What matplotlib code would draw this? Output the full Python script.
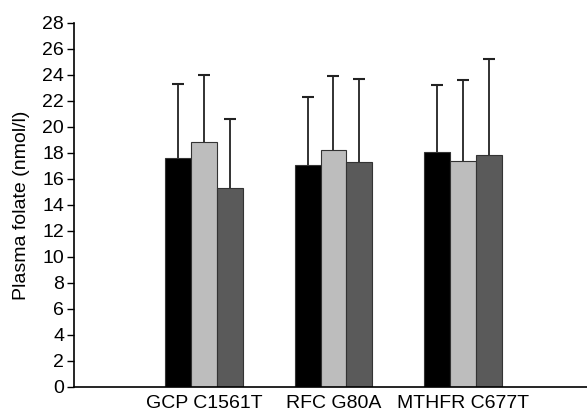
import numpy as np
import matplotlib.pyplot as plt

genes = ["GCP C1561T", "RFC G80A", "MTHFR C677T"]
wild_type = [17.6, 17.1, 18.1]
heterozygous = [18.8, 18.2, 17.4]
homozygous = [15.3, 17.3, 17.8]
wild_sd = [5.7, 5.2, 5.1]
het_sd = [5.2, 5.7, 6.2]
hom_sd = [5.3, 6.4, 7.4]

plt.rcParams['font.family'] = ['Liberation Sans', 'DejaVu Sans']

fig = plt.figure(figsize=(5.87, 4.12), dpi=100)
ax = fig.add_axes([0.126, 0.0607, 0.874, 0.884])

x = np.arange(len(genes))
w = 0.2
series = [
    (wild_type, wild_sd, "#000000"),
    (heterozygous, het_sd, "#bdbdbd"),
    (homozygous, hom_sd, "#5a5a5a"),
]
for i, (vals, sd, col) in enumerate(series):
    pos = x + (i - 1) * w
    ax.bar(pos, vals, width=w, color=col, edgecolor="#333333", linewidth=0.8, zorder=2)
    _, caps, _ = ax.errorbar(pos, vals, yerr=[np.zeros(len(vals)), sd], fmt="none",
                             ecolor="#222222", elinewidth=1.3, capsize=4,
                             capthick=1.5, zorder=1)
    # only keep the upper cap
    caps[0].set_visible(False)

ax.set_xlim(-1.004, 2.958)
ax.set_ylim(0, 28)
ax.set_yticks(range(0, 29, 2))
ax.set_xticks(x)
ax.set_xticklabels(genes)
ax.tick_params(axis="x", length=0, pad=6, labelsize=14)
ax.tick_params(axis="y", length=5, width=1, direction="out", pad=2, labelsize=14)
ax.spines["top"].set_visible(False)
ax.spines["right"].set_visible(False)
ax.spines["left"].set_linewidth(1.2)
ax.spines["bottom"].set_linewidth(1.2)
ax.set_ylabel("Plasma folate (nmol/l)", fontsize=14, labelpad=9)

fig.savefig("out.png", dpi=100)
